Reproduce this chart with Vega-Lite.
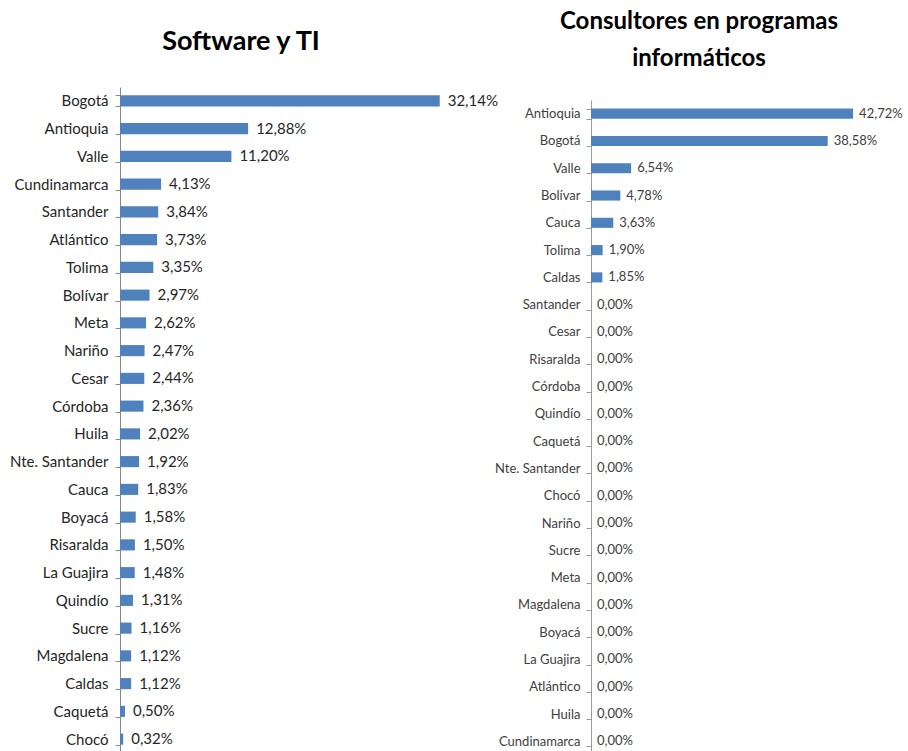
{
  "$schema": "https://vega.github.io/schema/vega-lite/v6.json",
  "background": "white",
  "padding": {"top": 10, "left": 5, "right": 5, "bottom": 5},
  "spacing": -6,
  "config": {
    "locale": {"number": {"decimal": ",", "thousands": ".", "grouping": [3], "currency": ["", "%"]}},
    "view": {"stroke": null},
    "font": "Lato"
  },
  "hconcat": [
    {
      "width": 380,
      "height": 666,
      "title": {"text": "Software y TI", "fontSize": 27, "fontWeight": "bold", "font": "Lato", "color": "#000000", "anchor": "middle", "frame": "group", "dx": -69, "offset": 24},
      "data": {"values": [
        {"dep": "Bogotá", "pct": 32.14},
        {"dep": "Antioquia", "pct": 12.88},
        {"dep": "Valle", "pct": 11.20},
        {"dep": "Cundinamarca", "pct": 4.13},
        {"dep": "Santander", "pct": 3.84},
        {"dep": "Atlántico", "pct": 3.73},
        {"dep": "Tolima", "pct": 3.35},
        {"dep": "Bolívar", "pct": 2.97},
        {"dep": "Meta", "pct": 2.62},
        {"dep": "Nariño", "pct": 2.47},
        {"dep": "Cesar", "pct": 2.44},
        {"dep": "Córdoba", "pct": 2.36},
        {"dep": "Huila", "pct": 2.02},
        {"dep": "Nte. Santander", "pct": 1.92},
        {"dep": "Cauca", "pct": 1.83},
        {"dep": "Boyacá", "pct": 1.58},
        {"dep": "Risaralda", "pct": 1.50},
        {"dep": "La Guajira", "pct": 1.48},
        {"dep": "Quindío", "pct": 1.31},
        {"dep": "Sucre", "pct": 1.16},
        {"dep": "Magdalena", "pct": 1.12},
        {"dep": "Caldas", "pct": 1.12},
        {"dep": "Caquetá", "pct": 0.50},
        {"dep": "Chocó", "pct": 0.32}
      ]},
      "encoding": {
        "y": {"field": "dep", "type": "nominal", "sort": null,
          "scale": {"paddingInner": 0.6, "paddingOuter": 0.3},
          "axis": {"title": null, "tickBand": "extent", "tickSize": 5, "labelPadding": 7, "labelFontSize": 15, "labelColor": "#262626", "labelFont": "Lato", "domainColor": "#888888", "tickColor": "#888888", "minExtent": 115, "maxExtent": 115, "labelLimit": 300}
        }
      },
      "layer": [
        {"mark": {"type": "bar", "color": "#4F81BD"},
          "encoding": {"x": {"field": "pct", "type": "quantitative", "scale": {"domain": [0, 38.2], "nice": false}, "axis": null}}},
        {"mark": {"type": "text", "align": "left", "baseline": "middle", "dx": 8, "fontSize": 15, "color": "#262626", "font": "Lato"},
          "encoding": {"x": {"field": "pct", "type": "quantitative"}, "text": {"field": "pct", "type": "quantitative", "format": "$.2f"}}}
      ]
    },
    {
      "width": 308,
      "height": 669,
      "title": {"text": ["Consultores en programas", "informáticos"], "lineHeight": 37, "fontSize": 24, "fontWeight": "bold", "font": "Lato", "color": "#000000", "anchor": "middle", "frame": "group", "dx": -46, "offset": 10},
      "data": {"values": [
        {"dep": "Antioquia", "pct": 42.72},
        {"dep": "Bogotá", "pct": 38.58},
        {"dep": "Valle", "pct": 6.54},
        {"dep": "Bolívar", "pct": 4.78},
        {"dep": "Cauca", "pct": 3.63},
        {"dep": "Tolima", "pct": 1.90},
        {"dep": "Caldas", "pct": 1.85},
        {"dep": "Santander", "pct": 0},
        {"dep": "Cesar", "pct": 0},
        {"dep": "Risaralda", "pct": 0},
        {"dep": "Córdoba", "pct": 0},
        {"dep": "Quindío", "pct": 0},
        {"dep": "Caquetá", "pct": 0},
        {"dep": "Nte. Santander", "pct": 0},
        {"dep": "Chocó", "pct": 0},
        {"dep": "Nariño", "pct": 0},
        {"dep": "Sucre", "pct": 0},
        {"dep": "Meta", "pct": 0},
        {"dep": "Magdalena", "pct": 0},
        {"dep": "Boyacá", "pct": 0},
        {"dep": "La Guajira", "pct": 0},
        {"dep": "Atlántico", "pct": 0},
        {"dep": "Huila", "pct": 0},
        {"dep": "Cundinamarca", "pct": 0}
      ]},
      "encoding": {
        "y": {"field": "dep", "type": "nominal", "sort": null,
          "scale": {"range": [13, 668], "paddingInner": 0.63, "paddingOuter": 0.315},
          "axis": {"title": null, "tickBand": "extent", "tickSize": 5, "labelPadding": 6, "labelFontSize": 13, "labelColor": "#404040", "labelFont": "Lato", "domainColor": "#999999", "tickColor": "#999999", "minExtent": 87, "maxExtent": 87, "labelLimit": 300}
        }
      },
      "layer": [
        {"mark": {"type": "bar", "color": "#4F81BD"},
          "encoding": {"x": {"field": "pct", "type": "quantitative", "scale": {"domain": [0, 50.2], "nice": false}, "axis": null}}},
        {"mark": {"type": "text", "align": "left", "baseline": "middle", "dx": 6, "fontSize": 13, "color": "#404040", "font": "Lato"},
          "encoding": {"x": {"field": "pct", "type": "quantitative"}, "text": {"field": "pct", "type": "quantitative", "format": "$.2f"}}}
      ]
    }
  ]
}
